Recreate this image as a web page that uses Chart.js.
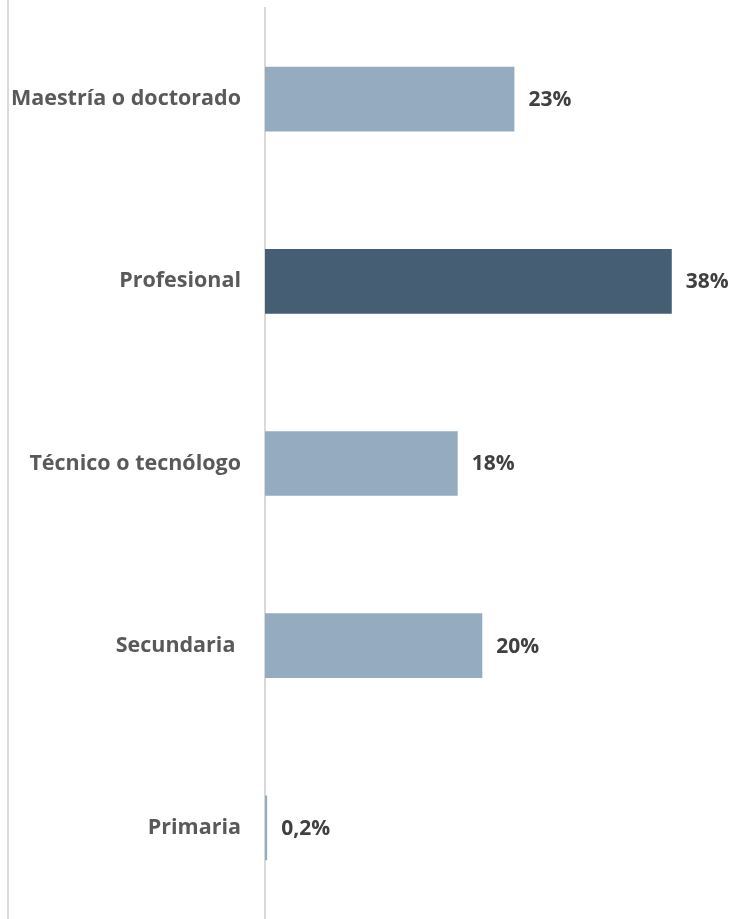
<!DOCTYPE html>
<html lang="es">
<head>
    <meta charset="UTF-8">
    <title>Nivel educativo</title>
    <script src="https://cdn.jsdelivr.net/npm/chart.js"></script>
    <style>
        html, body {
            margin: 0;
            padding: 0;
            background: #FFFFFF;
        }

        .holder {
            width: 736px;
            height: 919px;
        }
    </style>
</head>
<body>
    <div class="holder">
        <canvas id="nivelChart" width="736" height="919"></canvas>
    </div>

    <script>
        const categorias = ['Maestría o doctorado', 'Profesional', 'Técnico o tecnólogo', 'Secundaria ', 'Primaria'];
        const porcentajes = [23.3, 38, 18, 20.3, 0.2];
        const colores = ['#95ABC0', '#465E74', '#95ABC0', '#95ABC0', '#95ABC0'];

        const fontFam = "'Open Sans', 'Liberation Sans', sans-serif";

        function formato(v) {
            if (v < 1) return v.toFixed(1).replace('.', ',') + '%';
            return Math.round(v) + '%';
        }

        // left frame line + value labels next to each bar
        const extras = {
            id: 'extras',
            beforeDraw(chart) {
                const ctx = chart.ctx;
                ctx.save();
                ctx.strokeStyle = '#D9D9D9';
                ctx.lineWidth = 2;
                ctx.beginPath();
                ctx.moveTo(8, 0);
                ctx.lineTo(8, chart.height);
                ctx.stroke();
                ctx.restore();
            },
            afterDatasetsDraw(chart) {
                const ctx = chart.ctx;
                const meta = chart.getDatasetMeta(0);
                ctx.save();
                ctx.fillStyle = '#404040';
                ctx.font = 'bold 21px ' + fontFam;
                ctx.textAlign = 'left';
                ctx.textBaseline = 'middle';
                meta.data.forEach((bar, i) => {
                    ctx.fillText(formato(porcentajes[i]), bar.x + 14, bar.y + 1);
                });
                ctx.restore();
            }
        };

        new Chart(document.getElementById('nivelChart'), {
            type: 'bar',
            data: {
                labels: categorias,
                datasets: [{
                    data: porcentajes,
                    backgroundColor: colores,
                    barPercentage: 0.355,
                    categoryPercentage: 1
                }]
            },
            options: {
                indexAxis: 'y',
                responsive: false,
                animation: false,
                layout: {
                    padding: { top: 8, left: 0, right: 0, bottom: 0 }
                },
                plugins: {
                    legend: { display: false },
                    tooltip: { enabled: false }
                },
                scales: {
                    x: {
                        display: false,
                        min: 0,
                        max: 44
                    },
                    y: {
                        afterFit(scale) {
                            scale.width = 265;
                            scale.paddingTop = 0;
                            scale.paddingBottom = 0;
                        },
                        grid: { drawOnChartArea: false, drawTicks: false },
                        border: { display: true, color: '#D9D9D9', width: 2 },
                        ticks: {
                            padding: 24,
                            color: '#595959',
                            font: { family: fontFam, size: 21.5, weight: 'bold' }
                        }
                    }
                }
            },
            plugins: [extras]
        });
    </script>
</body>
</html>
